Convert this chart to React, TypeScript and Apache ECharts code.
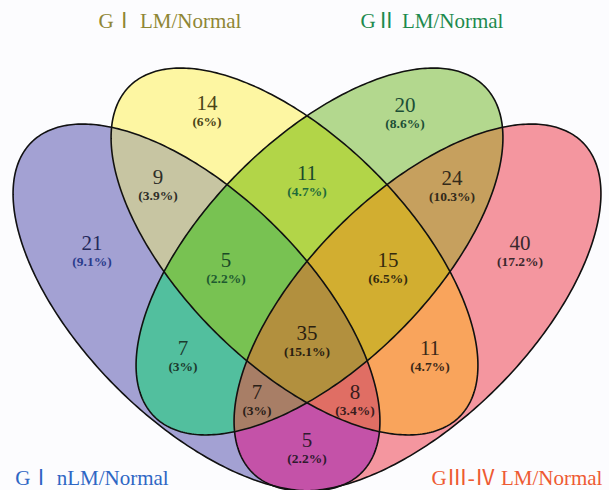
import React, { useEffect, useRef } from "react";
import * as echarts from "echarts";

// ---- Data ----
const setNames = ["GⅠ nLM/Normal", "GⅠ LM/Normal", "GⅡ LM/Normal", "GⅢ-Ⅳ LM/Normal"];
const regionKeys = ["A", "B", "C", "D", "AB", "AC", "AD", "BC", "BD", "CD", "ABC", "ABD", "ACD", "BCD", "ABCD"];
const regionCounts = [21, 14, 20, 40, 9, 7, 5, 11, 11, 24, 5, 8, 7, 15, 35];
const regionPercents = ["9.1%", "6%", "8.6%", "17.2%", "3.9%", "3%", "2.2%", "4.7%", "4.7%", "10.3%", "2.2%", "3.4%", "3%", "6.5%", "15.1%"];

// ---- Layout / style ----
const W = 609;
const H = 490;
// ellipse geometry per set: cx, cy, semi-major, semi-minor, angle (deg, screen)
const ellipses = [
  { cx: 196.5, cy: 307.5, a: 233.5, b: 113, ang: 45 },
  { cx: 294.5, cy: 251.5, a: 233.5, b: 113, ang: 45 },
  { cx: 319.5, cy: 251.5, a: 233.5, b: 113, ang: -45 },
  { cx: 417.5, cy: 307.5, a: 233.5, b: 113, ang: -45 },
];
const regionColors: Record<string, string> = {
  A: "#a3a1d3",
  B: "#fdf6a2",
  C: "#b3d88e",
  D: "#f4969f",
  AB: "#c7c5a2",
  AC: "#52bf9e",
  AD: "#c452a8",
  BC: "#b2d548",
  BD: "#f9a45c",
  CD: "#c6a05e",
  ABC: "#78c252",
  ABD: "#e06e64",
  ACD: "#a87e66",
  BCD: "#d2ae30",
  ABCD: "#b2903e",
};
const labelPos: Record<string, [number, number]> = {
  A: [92, 243],
  B: [207, 103],
  C: [405, 105],
  D: [520, 243],
  AB: [158, 177],
  AC: [183, 348],
  AD: [307, 440],
  BC: [307, 173],
  BD: [430, 348],
  CD: [452, 178],
  ABC: [226, 260],
  ABD: [355, 392],
  ACD: [257, 392],
  BCD: [388, 260],
  ABCD: [307, 333],
};
const labelColors: Record<string, [string, string]> = {
  A: ["#23285a", "#2a3c8c"],
  B: ["#4a4418", "#4a4418"],
  C: ["#1c4e36", "#1c4e36"],
  D: ["#3a282c", "#3a282c"],
  AB: ["#2e2e28", "#2e2e28"],
  AC: ["#1c3a2e", "#1c3a2e"],
  AD: ["#2e1a2e", "#2e1a2e"],
  BC: ["#1a4a2c", "#1e6a3a"],
  BD: ["#3a2818", "#3a2818"],
  CD: ["#332a1a", "#332a1a"],
  ABC: ["#1a4a26", "#1e5a30"],
  ABD: ["#3a1c1c", "#3a1c1c"],
  ACD: ["#2a2018", "#2a2018"],
  BCD: ["#332a0e", "#332a0e"],
  ABCD: ["#2a2010", "#2a2010"],
};
const titlePos: [number, number][] = [
  [92, 478],
  [170, 21],
  [432, 21],
  [517, 478],
];
const titleColors = ["#2e66c4", "#8f8634", "#1d8a4e", "#ee5a32"];

type Pt = [number, number];

function ellipsePoints(e: { cx: number; cy: number; a: number; b: number; ang: number }, n = 360): Pt[] {
  const phi = (e.ang * Math.PI) / 180;
  const c = Math.cos(phi);
  const s = Math.sin(phi);
  const pts: Pt[] = [];
  for (let i = 0; i < n; i++) {
    const t = (i / n) * Math.PI * 2;
    const x = e.cx + e.a * c * Math.cos(t) - e.b * s * Math.sin(t);
    const y = e.cy + e.a * s * Math.cos(t) + e.b * c * Math.sin(t);
    pts.push([x, y]);
  }
  return pts;
}

function signedArea(p: Pt[]) {
  let s = 0;
  for (let i = 0; i < p.length; i++) {
    const [x1, y1] = p[i];
    const [x2, y2] = p[(i + 1) % p.length];
    s += x1 * y2 - x2 * y1;
  }
  return s / 2;
}

function clip(subject: Pt[], clipPoly: Pt[]): Pt[] {
  const orient = signedArea(clipPoly) > 0 ? 1 : -1;
  let out = subject;
  for (let i = 0; i < clipPoly.length && out.length; i++) {
    const e0 = clipPoly[i];
    const e1 = clipPoly[(i + 1) % clipPoly.length];
    const inside = (p: Pt) => orient * ((e1[0] - e0[0]) * (p[1] - e0[1]) - (e1[1] - e0[1]) * (p[0] - e0[0])) >= 0;
    const inter = (p: Pt, q: Pt): Pt => {
      const dx = q[0] - p[0];
      const dy = q[1] - p[1];
      const ex = e1[0] - e0[0];
      const ey = e1[1] - e0[1];
      const den = dx * ey - dy * ex;
      const t = ((e0[0] - p[0]) * ey - (e0[1] - p[1]) * ex) / den;
      return [p[0] + t * dx, p[1] + t * dy];
    };
    const input = out;
    out = [];
    for (let j = 0; j < input.length; j++) {
      const cur = input[j];
      const prev = input[(j + input.length - 1) % input.length];
      const cIn = inside(cur);
      const pIn = inside(prev);
      if (cIn) {
        if (!pIn) out.push(inter(prev, cur));
        out.push(cur);
      } else if (pIn) {
        out.push(inter(prev, cur));
      }
    }
  }
  return out;
}

export default function App() {
  const ref = useRef<HTMLDivElement>(null);
  useEffect(() => {
    if (!ref.current) return;
    const chart = echarts.init(ref.current, undefined, { renderer: "svg" });
    const polys = ellipses.map((e) => ellipsePoints(e));
    const letters = ["A", "B", "C", "D"];
    const elements: any[] = [];
    const keysBySize = [...regionKeys].sort((x, y) => x.length - y.length);
    keysBySize.forEach((key) => {
      const idx = key.split("").map((ch) => letters.indexOf(ch));
      let poly = polys[idx[0]];
      for (let k = 1; k < idx.length; k++) poly = clip(poly, polys[idx[k]]);
      if (poly.length < 3) return;
      elements.push({
        type: "polygon",
        shape: { points: poly },
        style: { fill: regionColors[key], stroke: regionColors[key], lineWidth: 0.6 },
        silent: true,
      });
    });
    polys.forEach((p) => {
      elements.push({
        type: "polygon",
        shape: { points: p },
        style: { fill: "none", stroke: "#111", lineWidth: 1.6 },
        silent: true,
      });
    });
    regionKeys.forEach((key, i) => {
      const [x, y] = labelPos[key];
      const [c1, c2] = labelColors[key];
      elements.push({
        type: "text",
        style: {
          text: String(regionCounts[i]),
          x,
          y,
          align: "center",
          verticalAlign: "middle",
          fill: c1,
          fontSize: 21,
          fontFamily: "Liberation Serif, DejaVu Serif, serif",
        },
      });
      elements.push({
        type: "text",
        style: {
          text: "(" + regionPercents[i] + ")",
          x,
          y: y + 18,
          align: "center",
          verticalAlign: "middle",
          fill: c2,
          fontSize: 13.5,
          fontWeight: "bold",
          fontFamily: "Liberation Serif, DejaVu Serif, serif",
        },
      });
    });
    setNames.forEach((name, i) => {
      elements.push({
        type: "text",
        style: {
          text: name,
          x: titlePos[i][0],
          y: titlePos[i][1],
          align: "center",
          verticalAlign: "middle",
          fill: titleColors[i],
          fontSize: 21,
          fontFamily: "Liberation Serif, Noto Sans CJK SC, serif",
        },
      });
    });
    chart.setOption({
      animation: false,
      backgroundColor: "#fcfcfe",
      graphic: { elements },
    });
    return () => chart.dispose();
  }, []);
  return <div ref={ref} style={{ position: "fixed", left: 0, top: 0, width: W, height: H }} />;
}
